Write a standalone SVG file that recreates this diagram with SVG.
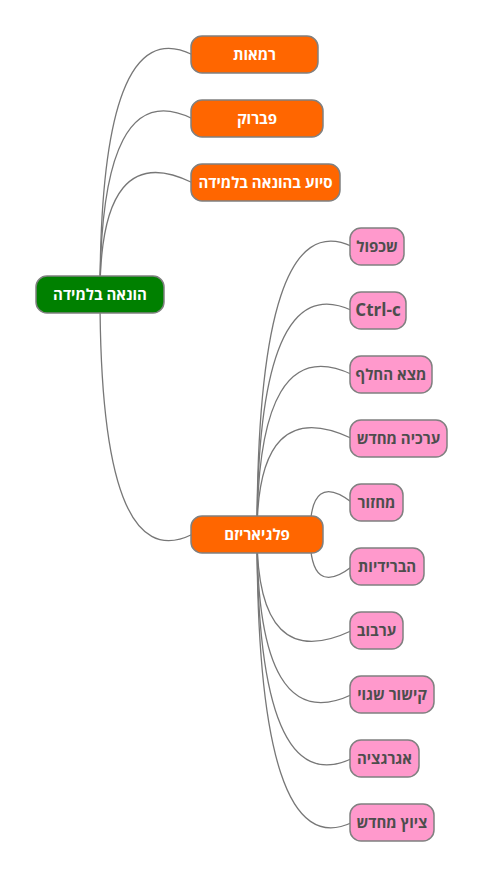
<svg xmlns="http://www.w3.org/2000/svg" width="485" height="878" viewBox="0 0 485 878">
<style>
.edge{fill:none;stroke:#777;stroke-width:1.3}
.box{stroke:#808080;stroke-width:1.5}
.root{fill:#008000}
.main{fill:#ff6600}
.sub{fill:#ff99cc}
.t{font-family:"Open Sans","Noto Sans","DejaVu Sans",sans-serif;font-weight:bold;font-size:15px;text-anchor:middle}
.tw{fill:#ffffff}
.td{fill:#4d4d4d}
</style>
<rect width="485" height="878" fill="#ffffff"/>
<g id="connectors">
<path class="edge" d="M100,294.5 Q100,9.5 192,54.5"/>
<path class="edge" d="M100,294.5 Q100,73.5 192,118.5"/>
<path class="edge" d="M100,294.5 Q100,137.5 192,182.5"/>
<path class="edge" d="M100,294.5 Q100,579.5 192,534.5"/>
<path class="edge" d="M257,534.5 Q257,201.5 352,246.5"/>
<path class="edge" d="M257,534.5 Q257,265.5 352,310.5"/>
<path class="edge" d="M257,534.5 Q257,329.5 352,374.5"/>
<path class="edge" d="M257,534.5 Q257,393.5 352,438.5"/>
<path class="edge" d="M310,534.5 Q310,470 352,502.5"/>
<path class="edge" d="M310,534.5 Q310,599 352,566.5"/>
<path class="edge" d="M257,534.5 Q257,675.5 352,630.5"/>
<path class="edge" d="M257,534.5 Q257,739.5 352,694.5"/>
<path class="edge" d="M257,534.5 Q257,803.5 352,758.5"/>
<path class="edge" d="M257,534.5 Q257,867.5 352,822.5"/>
</g>
<g id="n-root"><rect class="box root" x="36" y="276" width="128" height="37" rx="11"/><text class="t tw" x="100" y="299.5">הונאה בלמידה</text></g>
<g id="n-ramaut"><rect class="box main" x="191" y="36" width="127" height="37" rx="11"/><text class="t tw" x="254.5" y="59.5">רמאות</text></g>
<g id="n-pabruk"><rect class="box main" x="191" y="100" width="132" height="37" rx="11"/><text class="t tw" x="257" y="123.5">פברוק</text></g>
<g id="n-siua"><rect class="box main" x="191" y="164" width="149" height="37" rx="11"/><text class="t tw" x="265.5" y="187.5">סיוע בהונאה בלמידה</text></g>
<g id="n-plagiarism"><rect class="box main" x="191" y="516" width="132" height="37" rx="11"/><text class="t tw" x="257" y="539.5">פלגיאריזם</text></g>
<g id="n-shichpul"><rect class="box sub" x="350" y="228" width="54" height="37" rx="11"/><text class="t td" x="377" y="251.5">שכפול</text></g>
<g id="n-ctrlc"><rect class="box sub" x="350" y="292" width="56" height="37" rx="11"/><text class="t td" x="378" y="315.5" style="font-size:17px">Ctrl-c</text></g>
<g id="n-matsa"><rect class="box sub" x="350" y="356" width="82" height="37" rx="11"/><text class="t td" x="391" y="379.5">מצא החלף</text></g>
<g id="n-arichah"><rect class="box sub" x="350" y="420" width="97" height="37" rx="11"/><text class="t td" x="398.5" y="443.5">ערכיה מחדש</text></g>
<g id="n-michzur"><rect class="box sub" x="350" y="484" width="53" height="37" rx="11"/><text class="t td" x="376.5" y="507.5">מחזור</text></g>
<g id="n-hybrid"><rect class="box sub" x="350" y="548" width="74" height="37" rx="11"/><text class="t td" x="387" y="571.5">הברידיות</text></g>
<g id="n-irbuv"><rect class="box sub" x="350" y="612" width="53" height="37" rx="11"/><text class="t td" x="376.5" y="635.5">ערבוב</text></g>
<g id="n-kishur"><rect class="box sub" x="350" y="676" width="84" height="37" rx="11"/><text class="t td" x="392" y="699.5">קישור שגוי</text></g>
<g id="n-agregatsia"><rect class="box sub" x="350" y="740" width="69" height="37" rx="11"/><text class="t td" x="384.5" y="763.5">אגרגציה</text></g>
<g id="n-tsiuts"><rect class="box sub" x="350" y="804" width="84" height="37" rx="11"/><text class="t td" x="392" y="827.5">ציוץ מחדש</text></g>
</svg>
